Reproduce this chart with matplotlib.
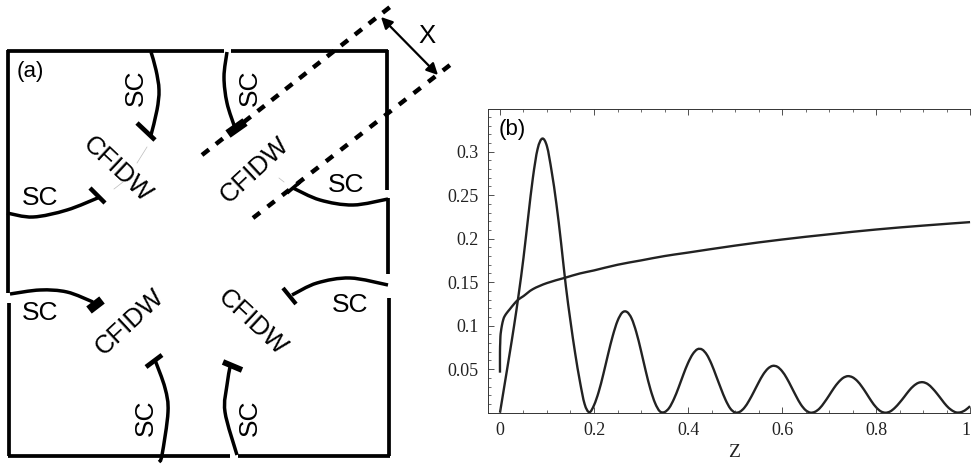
import matplotlib
matplotlib.use("Agg")
import matplotlib.pyplot as plt
from matplotlib.path import Path
from matplotlib.patches import PathPatch
from matplotlib.ticker import MultipleLocator, FixedLocator, FixedFormatter

W, H = 971, 465

# panel (b), values
z_osc = [i / 100 for i in range(101)]
y_osc = [0.0, 0.033, 0.066, 0.100, 0.137, 0.178, 0.225, 0.270, 0.303, 0.315,
         0.306, 0.277, 0.240, 0.195, 0.146, 0.105, 0.068, 0.036, 0.010, 0.0005,
         0.0086, 0.024, 0.0446, 0.0673, 0.0885, 0.1054, 0.115, 0.1158, 0.1083, 0.0925,
         0.0712, 0.048, 0.027, 0.011, 0.0016, 0.0007, 0.0056, 0.0157, 0.029, 0.0437,
         0.0571, 0.0673, 0.0729, 0.0726, 0.0667, 0.0559, 0.042, 0.0278, 0.0146, 0.0048,
         0.0003, 0.001, 0.0058, 0.014, 0.024, 0.0345, 0.044, 0.0507, 0.0538, 0.0528,
         0.0478, 0.0397, 0.0295, 0.019, 0.0095, 0.003, 0.0001, 0.001, 0.005, 0.0118,
         0.0197, 0.028, 0.035, 0.040, 0.042, 0.0407, 0.0365, 0.0298, 0.0218, 0.0134,
         0.0063, 0.0016, 0.0, 0.0014, 0.0056, 0.0115, 0.0182, 0.0252, 0.0308, 0.0343,
         0.035, 0.0329, 0.028, 0.0217, 0.0147, 0.008, 0.0032, 0.0004, 0.0005, 0.003,
         0.0075]
z_rise = [0, 0, 0.0005, 0.001, 0.002, 0.004, 0.007, 0.01, 0.015, 0.021, 0.03, 0.039,
          0.05, 0.07, 0.1, 0.138, 0.17, 0.2, 0.25, 0.3, 0.35, 0.4, 0.5, 0.6, 0.7, 0.8,
          0.9, 1.0]
y_rise = [0.046, 0.07, 0.08, 0.088, 0.093, 0.10, 0.107, 0.111, 0.115, 0.119, 0.125, 0.130,
          0.134, 0.142, 0.149, 0.155, 0.160, 0.1635, 0.170, 0.175, 0.180, 0.184, 0.192,
          0.199, 0.205, 0.2105, 0.215, 0.219]
x_ticks = [0, 0.2, 0.4, 0.6, 0.8, 1]
x_tick_labels = ["0", "0.2", "0.4", "0.6", "0.8", "1"]
y_ticks = [0.05, 0.1, 0.15, 0.2, 0.25, 0.3]
y_tick_labels = ["0.05", "0.1", "0.15", "0.2", "0.25", "0.3"]

# panel (a), sample frame segments in picture pixels
frame_segs = [
    [(7, 51), (224, 51)], [(231, 51), (388, 51)],
    [(8, 50), (8, 293)], [(9, 303), (9, 456)],
    [(387, 50), (387, 190)], [(388, 198), (388, 274)], [(389, 298), (389, 456)],
    [(8, 455.5), (230, 455.5)], [(238, 455.5), (390, 455.5)],
]
sc_arcs = [
    [(151, 52), (156, 70), (159, 90), (157, 110), (151, 135)],
    [(227, 52), (224, 77), (227, 103), (235, 128)],
    [(7, 213), (33, 217), (67, 210), (100, 197)],
    [(388, 199), (353, 205), (320, 200), (293, 188)],
    [(10, 294), (40, 290), (67, 292), (93, 302)],
    [(388, 285), (350, 278), (317, 283), (292, 295)],
    [(159, 462), (162, 455), (168, 412), (165, 388), (155, 360)],
    [(237, 455), (225, 412), (227, 385), (230, 367)],
]
end_bars = [
    ([(137, 123), (155, 140)], 3.4),
    ([(228, 134), (245, 122)], 6.5),
    ([(90, 188), (105, 203)], 3.2),
    ([(287, 193), (300, 182)], 2.6),
    ([(89, 310), (102, 300)], 6.5),
    ([(283, 288), (296, 304)], 3.0),
    ([(146, 367), (162, 355)], 3.4),
    ([(223, 362), (242, 370)], 4.2),
]
dash_lines = [([(202, 155), (390, 7)], 1.98), ([(253, 218), (450, 65)], 2.16)]
x_arrow = [(381, 17), (438, 75)]
faint_marks = [[(147, 147), (137, 163)], [(123, 182), (114, 189)], [(279, 178), (284, 182)]]

sc_labels = [(136, 88, 90), (250, 88, 90), (40, 198, 0), (346, 185, 0),
             (40, 313, 0), (350, 305, 0), (146, 418, 90), (250, 418, 90)]
cfidw_labels = [(117, 170, -43), (255, 170, 43), (130, 322, 43), (252, 323, -43)]


def smooth_path(points):
    """Catmull-Rom curve through the given points, as bezier segments."""
    verts = [points[0]]
    codes = [Path.MOVETO]
    for i in range(len(points) - 1):
        p0 = points[max(i - 1, 0)]
        p1 = points[i]
        p2 = points[i + 1]
        p3 = points[min(i + 2, len(points) - 1)]
        verts.append((p1[0] + (p2[0] - p0[0]) / 6, p1[1] + (p2[1] - p0[1]) / 6))
        verts.append((p2[0] - (p3[0] - p1[0]) / 6, p2[1] - (p3[1] - p1[1]) / 6))
        verts.append(p2)
        codes += [Path.CURVE4, Path.CURVE4, Path.CURVE4]
    return Path(verts, codes)


plt.rcParams["font.family"] = ["Liberation Sans", "DejaVu Sans"]
fig = plt.figure(figsize=(W / 100, H / 100), dpi=100)

# schematic, full-figure axes in pixel coordinates
sk = fig.add_axes([0, 0, 1, 1])
sk.set_xlim(0, W)
sk.set_ylim(H, 0)
sk.axis("off")

for seg in frame_segs:
    xs, ys = zip(*seg)
    sk.plot(xs, ys, color="black", lw=2.7, solid_capstyle="butt")
for arc in sc_arcs:
    sk.add_patch(PathPatch(smooth_path(arc), fill=False, edgecolor="black", lw=2.5))
for seg, width in end_bars:
    xs, ys = zip(*seg)
    sk.plot(xs, ys, color="black", lw=width, solid_capstyle="butt")
for seg, gap in dash_lines:
    xs, ys = zip(*seg)
    sk.plot(xs, ys, color="black", lw=3.2, linestyle=(0, (2, gap)), dash_capstyle="butt")
for seg in faint_marks:
    xs, ys = zip(*seg)
    sk.plot(xs, ys, color="#bbbbbb", lw=0.5)
sk.annotate("", xy=x_arrow[0], xytext=x_arrow[1],
            arrowprops=dict(arrowstyle="<|-|>", color="black", lw=1.6,
                            mutation_scale=17, shrinkA=0, shrinkB=0))
sk.text(427, 36, "X", fontsize=18.5, ha="center", va="center")
sk.text(30, 71, "(a)", fontsize=16, ha="center", va="center")
for x, y, rot in sc_labels:
    sk.text(x, y, "SC", fontsize=19, ha="center", va="center", rotation=rot,
            rotation_mode="anchor")
for x, y, rot in cfidw_labels:
    sk.text(x, y, "CFIDW", fontsize=18.5, ha="center", va="center", rotation=rot,
            rotation_mode="anchor")

# line plot
left, right, top, bottom = 488, 971, 109, 412.7
ax = fig.add_axes([left / W, 1 - bottom / H, (right - left) / W, (bottom - top) / H])
ax.patch.set_alpha(0)
for zs, ys in [(z_osc, y_osc), (z_rise, y_rise)]:
    ax.add_patch(PathPatch(smooth_path(list(zip(zs, ys))), fill=False, edgecolor="#222222",
                           lw=1.7, clip_on=True))
ax.set_xlim(-0.0255, 1.002)
ax.set_ylim(0, 0.349)

ax.xaxis.set_major_locator(FixedLocator(x_ticks))
ax.xaxis.set_major_formatter(FixedFormatter(x_tick_labels))
ax.yaxis.set_major_locator(FixedLocator(y_ticks))
ax.yaxis.set_major_formatter(FixedFormatter(y_tick_labels))
ax.xaxis.set_minor_locator(MultipleLocator(0.05))
ax.yaxis.set_minor_locator(MultipleLocator(0.01))
ax.tick_params(which="major", direction="in", length=4, width=0.6, top=True, right=False,
               color="#333333", pad=7, labelsize=13, labelcolor="#222222")
ax.tick_params(which="minor", direction="in", length=2, width=0.5, top=True, right=False,
               color="#333333")
for label in ax.get_xticklabels() + ax.get_yticklabels():
    label.set_family("Liberation Serif")
ax.get_xticklabels()[-1].set_ha("right")
ax.spines["right"].set_visible(False)
for name in ["left", "bottom", "top"]:
    ax.spines[name].set_linewidth(0.7)
    ax.spines[name].set_color("#333333")
sk.text(734, 452, "Z", family="Liberation Serif", fontsize=14, color="#222222",
        ha="center", va="center")
sk.text(512, 129, "(b)", fontsize=16, ha="center", va="center", zorder=5)

fig.savefig("out.png", dpi=100)
